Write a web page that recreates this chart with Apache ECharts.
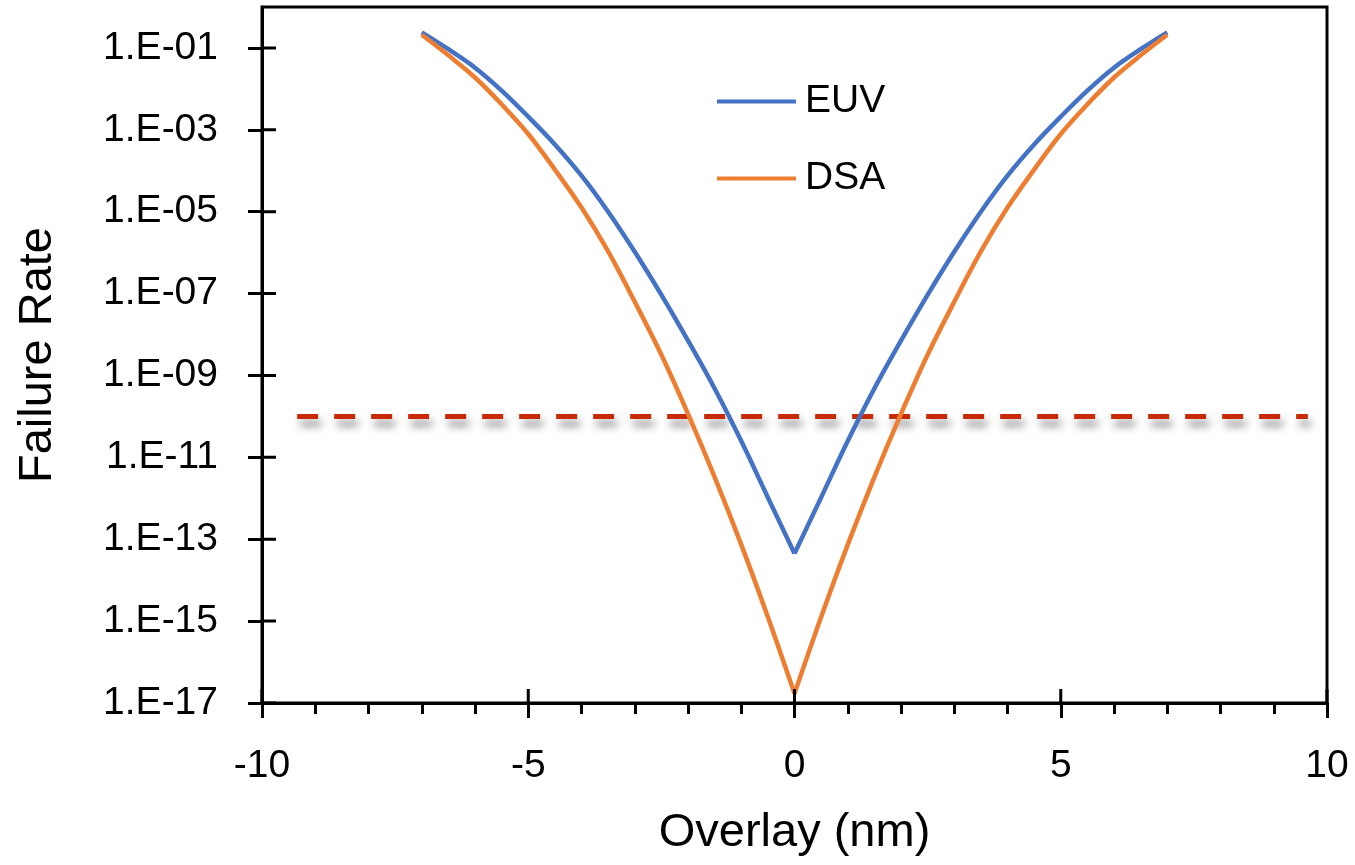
<!DOCTYPE html>
<html>
<head>
<meta charset="utf-8">
<title>Failure Rate vs Overlay</title>
<script src="https://cdn.jsdelivr.net/npm/echarts@6/dist/echarts.min.js"></script>
<style>
  html, body { margin: 0; padding: 0; background: #fff; }
  #chart { width: 1355px; height: 865px; }
</style>
</head>
<body>
<div id="chart"></div>
<script>
// overlay (nm) sample points
const overlay = [-7, -6.5, -6, -5.5, -5, -4.5, -4, -3.5, -3, -2.5, -2, -1.5, -1, -0.5, 0,
  0.5, 1, 1.5, 2, 2.5, 3, 3.5, 4, 4.5, 5, 5.5, 6, 6.5, 7]
const euv = [2.4e-1, 9.3e-2, 3.3e-2, 9.1e-3, 2.1e-3, 4.4e-4, 7.6e-5, 1.0e-5, 1.05e-6, 9.3e-8, 7.1e-9, 4.8e-10, 2.5e-11, 1.05e-12, 4.5e-14,
  1.05e-12, 2.5e-11, 4.8e-10, 7.1e-9, 9.3e-8, 1.05e-6, 1.0e-5, 7.6e-5, 4.4e-4, 2.1e-3, 9.1e-3, 3.3e-2, 9.3e-2, 2.4e-1]
const dsa = [2.1e-1, 6.6e-2, 1.9e-2, 4.2e-3, 7.9e-4, 1.07e-4, 1.26e-5, 1.07e-6, 6.3e-8, 3.2e-9, 1.15e-10, 3.3e-12, 7.4e-14, 1.26e-15, 1.7e-17,
  1.26e-15, 7.4e-14, 3.3e-12, 1.15e-10, 3.2e-9, 6.3e-8, 1.07e-6, 1.26e-5, 1.07e-4, 7.9e-4, 4.2e-3, 1.9e-2, 6.6e-2, 2.1e-1]

// dashed target line
const thresholdX = [-9.34, 9.64]
const thresholdRate = 1e-10

// axis ticks
const xMajorTicks = [-10, -5, 0, 5, 10]
const yTickExps = [-17, -15, -13, -11, -9, -7, -5, -3, -1]

const FONT = 'Liberation Sans'
const X_MIN = -10, X_MAX = 10, Y_MIN = 1e-17, Y_MAX = 1
const GRID = { left: 262, top: 7, width: 1065, height: 696 }
const yTicks = yTickExps.map(e => Math.pow(10, e))
const fmtRate = v => {
  const e = Math.round(Math.log10(v))
  return '1.E' + (e < 0 ? '-' : '+') + String(Math.abs(e)).padStart(2, '0')
}

const chart = echarts.init(document.getElementById('chart'), null, { renderer: 'canvas' })

const tickStyle = { color: '#000', width: 3 }
const axisLineStyle = { color: '#000', width: 3 }

// each curve is drawn as two halves so the dip at 0 stays pointed
const half = (vals, side) => overlay
  .map((x, i) => [x, vals[i]])
  .filter(p => (side < 0 ? p[0] <= 0 : p[0] >= 0))

const curve = (name, vals, color, side) => ({
  name, type: 'line', smooth: 0.35, symbol: 'none',
  data: half(vals, side),
  lineStyle: { color, width: 4.5 },
  itemStyle: { color }
})

// inner half of the crossing major ticks (axisTick only draws one side),
// 14px long, as short segments separated by nulls
const TICK_IN = 14
const xStep = TICK_IN * (X_MAX - X_MIN) / GRID.width
const yFactor = Math.pow(10, TICK_IN * Math.log10(Y_MAX / Y_MIN) / GRID.height)
const innerTickData = [
  ...yTicks.flatMap(v => [[X_MIN, v], [X_MIN + xStep, v], null]),
  ...xMajorTicks.flatMap(x => [[x, Y_MIN], [x, Y_MIN * yFactor], null])
]

chart.setOption({
  animation: false,
  backgroundColor: '#fff',
  textStyle: { fontFamily: FONT },
  grid: {
    ...GRID,
    show: true, borderColor: '#000', borderWidth: 3, backgroundColor: 'transparent'
  },
  legend: {
    data: ['EUV', 'DSA'],
    orient: 'vertical',
    left: 712, top: 77,
    icon: 'rect',
    itemWidth: 79, itemHeight: 4,
    itemGap: 38,
    textStyle: { fontFamily: FONT, fontSize: 39, color: '#000', padding: [0, 0, 0, 4] }
  },
  xAxis: {
    type: 'value', min: X_MIN, max: X_MAX, interval: 5, position: 'bottom',
    name: 'Overlay (nm)', nameLocation: 'middle', nameGap: 107,
    nameTextStyle: { fontFamily: FONT, fontSize: 47, color: '#000' },
    axisLine: { onZero: false, lineStyle: axisLineStyle },
    axisTick: { show: true, length: 15, lineStyle: tickStyle },
    minorTick: { show: true, splitNumber: 5, length: 11, lineStyle: tickStyle },
    axisLabel: { fontFamily: FONT, fontSize: 39, color: '#000', margin: 44 },
    splitLine: { show: false }
  },
  yAxis: {
    type: 'log', logBase: 10, min: Y_MIN, max: Y_MAX, position: 'left',
    name: 'Failure Rate', nameLocation: 'middle', nameGap: 200,
    nameTextStyle: { fontFamily: FONT, fontSize: 47, color: '#000' },
    axisLine: { show: true, onZero: false, lineStyle: axisLineStyle },
    axisTick: { show: true, length: 14, lineStyle: tickStyle, customValues: yTicks },
    axisLabel: { fontFamily: FONT, fontSize: 39, color: '#000', margin: 44, customValues: yTicks, formatter: fmtRate },
    splitLine: { show: false },
    minorTick: { show: false }
  },
  series: [
    curve('EUV', euv, '#4472C4', -1),
    curve('EUV', euv, '#4472C4', 1),
    curve('DSA', dsa, '#ED7D31', -1),
    curve('DSA', dsa, '#ED7D31', 1),
    {
      name: 'target', type: 'line', symbol: 'none', silent: true, z: 1,
      data: thresholdX.map(x => [x, thresholdRate]),
      lineStyle: {
        color: '#C82A06', width: 5, type: [21, 16],
        shadowColor: 'rgba(0,0,0,0.5)', shadowBlur: 8, shadowOffsetX: 3, shadowOffsetY: 7
      }
    },
    {
      name: 'ticks', type: 'line', symbol: 'none', silent: true, z: 3,
      connectNulls: false, clip: false,
      data: innerTickData,
      lineStyle: { color: '#000', width: 3, cap: 'butt' }
    }
  ]
})
</script>
</body>
</html>
